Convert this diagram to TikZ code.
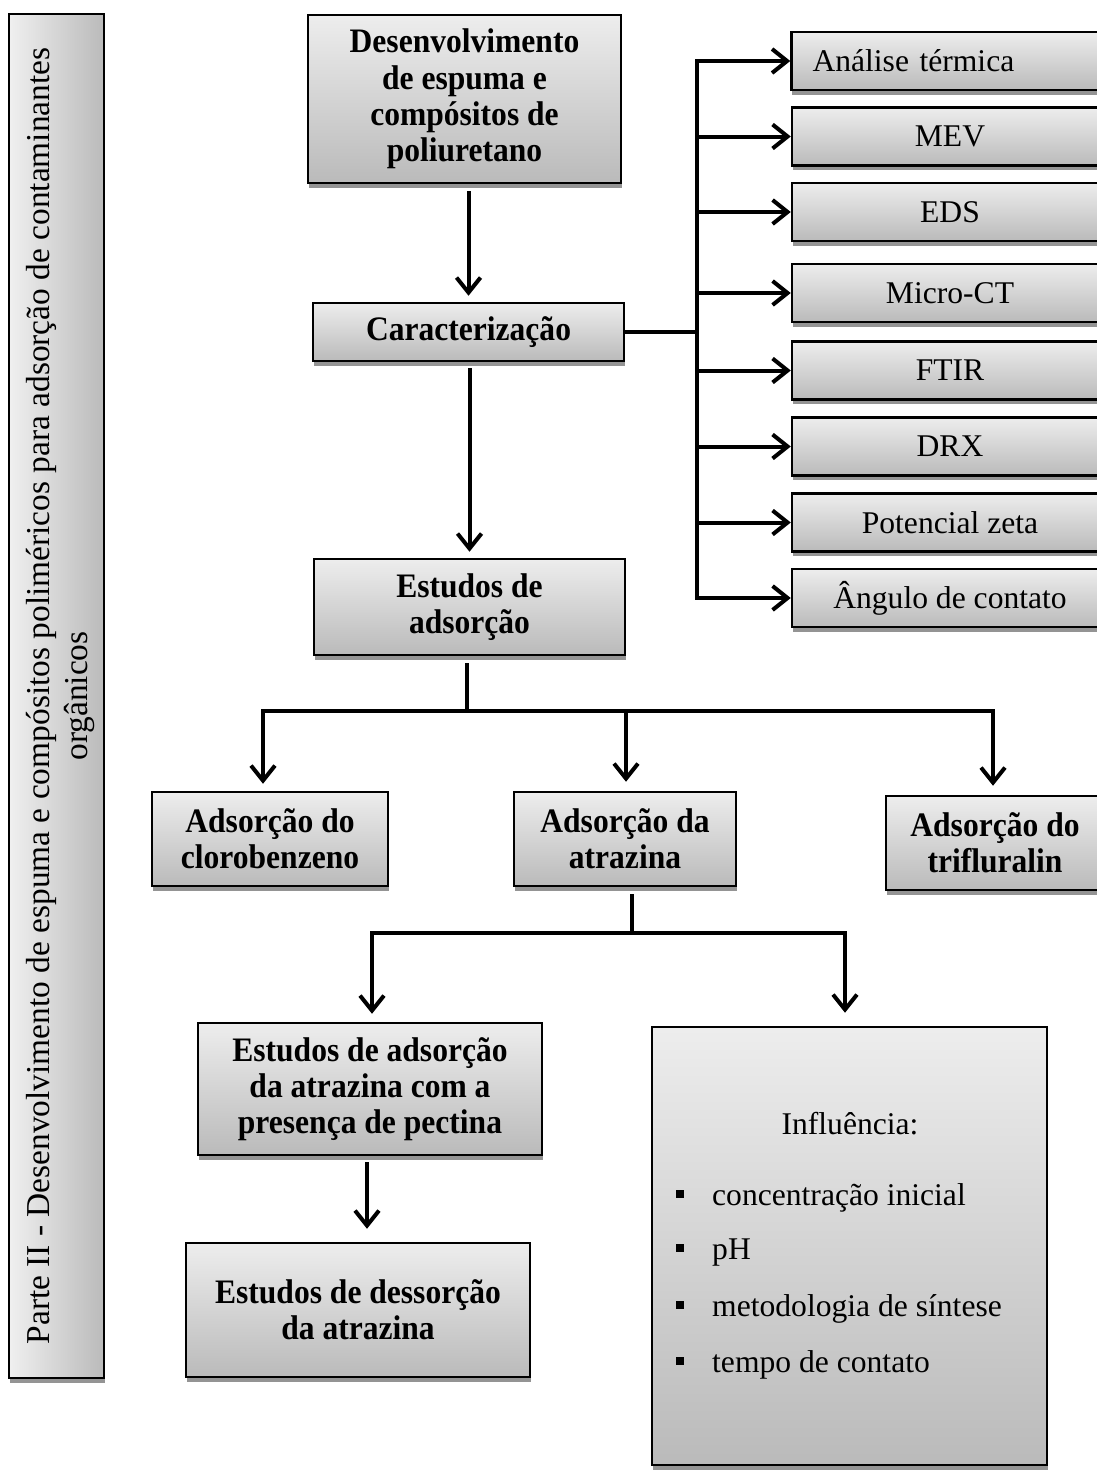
\documentclass[tikz,border=0pt]{standalone}
\usepackage{fontspec}
\setmainfont{Liberation Serif}
\newfontfamily\bxfont[FakeStretch=0.92]{Liberation Serif}
\usetikzlibrary{arrows.meta,shadows,calc}
\begin{document}
\begin{tikzpicture}[x=1pt,y=-1pt,
  base/.style={draw=black, line width=2.5pt, inner sep=0pt, align=center,
    font=\fontsize{31.6}{36.3}\selectfont,
    drop shadow={shadow xshift=0.8pt, shadow yshift=-4.5pt, fill=black!42, opacity=1}},
  bx/.style={base, top color=black!7, bottom color=black!27},
  bbx/.style={bx, font=\bxfont\fontsize{34.3}{36.3}\selectfont\bfseries},
  rbox/.style={bx, minimum width=316pt, minimum height=58pt},
  txt/.style={font=\fontsize{31.6}{36.3}\selectfont, inner sep=0pt},
  ln/.style={line width=4pt, line cap=rect},
  arr/.style={line width=4pt, -{Straight Barb[length=15pt,width=24pt,line width=4pt]}},
  bul/.style={fill=black, minimum size=8pt, inner sep=0pt},
]
\useasboundingbox (0,0) rectangle (1097,1472);
\clip (0,0) rectangle (1097,1472);

% side box
\node[base, left color=black!6, right color=black!27, minimum width=95pt, minimum height=1364pt] (side) at (56.5,696) {};
\node[rotate=90, align=center, inner sep=0pt, font=\fontsize{33.4}{38}\selectfont] (sidet) at ([xshift=4pt]side.center) {Parte II - Desenvolvimento de espuma e compósitos poliméricos para adsorção de contaminantes\\orgânicos};

% main column
\node[bbx, minimum width=313pt, minimum height=168pt] (d1) at (464.5,99) {Desenvolvimento\\de espuma e\\compósitos de\\poliuretano};
\node[bbx, minimum width=311pt, minimum height=58pt] (car) at (468.5,332) {Caracterização};
\node[bbx, minimum width=311pt, minimum height=96pt] (est) at (469.5,607) {Estudos de\\adsorção};

% right column
\node[rbox, text width=275pt, align=left, inner xsep=21pt] (r1) at (950,61) {Análise térmica};
\node[rbox] (r2) at (950,136.5) {MEV};
\node[rbox] (r3) at (950,212) {EDS};
\node[rbox] (r4) at (950,293) {Micro-CT};
\node[rbox] (r5) at (950,370.5) {FTIR};
\node[rbox] (r6) at (950,446.5) {DRX};
\node[rbox] (r7) at (950,522.5) {Potencial zeta};
\node[rbox] (r8) at (950,598) {Ângulo de contato};

% adsorption row
\node[bbx, minimum width=236pt, minimum height=94pt] (clo) at (270,839) {Adsorção do\\clorobenzeno};
\node[bbx, minimum width=222pt, minimum height=94pt] (atr) at (625,839) {Adsorção da\\atrazina};
\node[bbx, minimum width=218pt, minimum height=94pt] (tri) at (995,843) {Adsorção do\\trifluralin};

% lower
\node[bbx, minimum width=344pt, minimum height=132pt] (pec) at (370,1089) {Estudos de adsorção\\da atrazina com a\\presença de pectina};
\node[bbx, minimum width=344pt, minimum height=134pt] (des) at (358,1310) {Estudos de dessorção\\da atrazina};
\node[bx, minimum width=395pt, minimum height=438pt] (inf) at (849.5,1246) {};
\node[txt, anchor=base] (inft) at (850,1134) {Influência:};
\node[txt, anchor=base west] (i1) at (712,1205) {concentração inicial};
\node[txt, anchor=base west] (i2) at (712,1259) {pH};
\node[txt, anchor=base west] (i3) at (712,1316) {metodologia de síntese};
\node[txt, anchor=base west] (i4) at (712,1372) {tempo de contato};
\node[bul] (q1) at (680,1194) {};
\node[bul] (q2) at (680,1248) {};
\node[bul] (q3) at (680,1305) {};
\node[bul] (q4) at (680,1361) {};

% connectors: main column
\draw[arr, shorten <=7pt, shorten >=6pt] (car.north |- d1.south) -- (car.north);
\draw[arr, shorten <=6pt, shorten >=6pt] (est.north |- car.south) -- (est.north);

% characterization bus
\coordinate (vt) at (697,61);
\coordinate (vb) at (697,598);
\draw[ln] (car.east) -- (car.east -| vt);
\draw[ln] (vt) -- (vb);
\foreach \r in {r1,r2,r3,r4,r5,r6,r7,r8}{
  \draw[arr] (vt |- \r.west) -- (\r.west);
}

% adsorption bus
\coordinate (h2) at (467,711);
\coordinate (bl) at (263,711);
\coordinate (bm) at (626,711);
\coordinate (br) at (993,711);
\draw[arr, shorten <=7pt, shorten >=7pt] (h2 |- est.south) -- (h2) -- (bl) -- (bl |- clo.north);
\draw[arr, shorten >=9pt] (h2) -- (br) -- (br |- tri.north);
\draw[arr, shorten >=9pt] (bm) -- (bm |- atr.north);

% atrazine bus
\coordinate (h3) at (632,933);
\coordinate (cl) at (372,933);
\coordinate (cr) at (845,933);
\draw[arr, shorten <=7pt, shorten >=8pt] (h3 |- atr.south) -- (h3) -- (cl) -- (cl |- pec.north);
\draw[arr, shorten >=13pt] (h3) -- (cr) -- (cr |- inf.north);

% pectin -> desorption
\draw[arr, shorten <=6pt, shorten >=13pt] (367,0 |- pec.south) -- (367,0 |- des.north);
\end{tikzpicture}
\end{document}
